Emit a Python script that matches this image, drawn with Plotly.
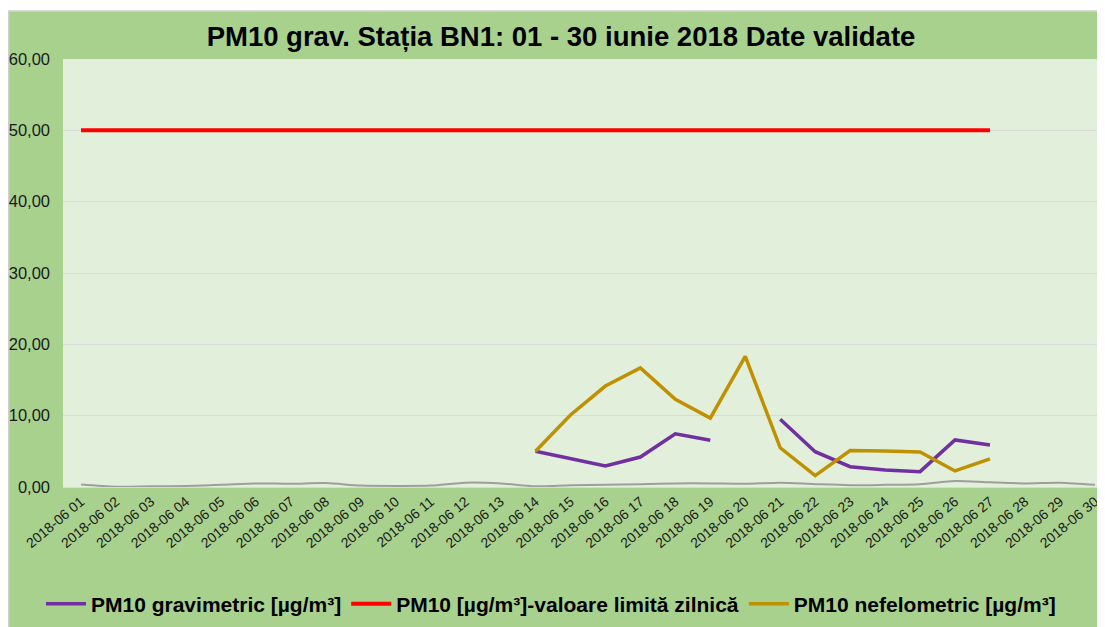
import plotly.graph_objects as go

dates = [f"2018-06 {d:02d}" for d in range(1, 31)]

gravimetric = [None]*13 + [5.0, 4.0, 2.95, 4.2, 7.45, 6.55, None, 9.5, 4.95, 2.85, 2.4, 2.15, 6.6, 5.9, None, None, None]
limit = [50.0]*27 + [None, None, None]
nefelometric = [None]*13 + [5.0, 10.1, 14.15, 16.7, 12.3, 9.65, 18.3, 5.5, 1.6, 5.1, 5.05, 4.9, 2.25, 3.95, None, None, None]
background = [0.35, 0.05, 0.1, 0.15, 0.3, 0.5, 0.45, 0.55, 0.2, 0.15, 0.2, 0.6, 0.5, 0.1, 0.25,
              0.3, 0.4, 0.5, 0.5, 0.45, 0.6, 0.4, 0.25, 0.3, 0.4, 0.85, 0.65, 0.5, 0.6, 0.3]

y_ticks = [0, 10, 20, 30, 40, 50, 60]

title_text = "PM10 grav. Stația BN1: 01 - 30 iunie 2018 Date validate"

fig = go.Figure()
fig.add_trace(go.Scatter(x=dates, y=background, mode="lines", showlegend=False,
                         line=dict(color="#9e9e9e", width=2, shape="spline", smoothing=0.8),
                         hoverinfo="skip"))
fig.add_trace(go.Scatter(x=dates, y=gravimetric, mode="lines", name="PM10 gravimetric [µg/m³]",
                         line=dict(color="#7030a0", width=3.5), connectgaps=False))
fig.add_trace(go.Scatter(x=dates, y=limit, mode="lines", name="PM10 [µg/m³]-valoare limită zilnică",
                         line=dict(color="#ff0000", width=4)))
fig.add_trace(go.Scatter(x=dates, y=nefelometric, mode="lines", name="PM10 nefelometric [µg/m³]",
                         line=dict(color="#bf9000", width=3.5)))

# the page body has an 8px margin, so the figure is sized/offset accordingly
OFF = 8
W, H = 1105 - OFF, 627 - OFF
L, R, T, B = 63 - OFF, 0, 59 - OFF, 627 - 487
pw, ph = W - L - R, H - T - B

def px(x):
    return (x - OFF - L) / pw

def py(y):
    return (H - B - (y - OFF)) / ph

# white strip above the chart frame and the frame border
fig.add_shape(type="rect", xref="paper", yref="paper", x0=px(0), x1=px(1120), y0=py(11), y1=py(0),
              fillcolor="white", line=dict(width=0), layer="below")
fig.add_shape(type="line", xref="paper", yref="paper", x0=px(8), x1=px(1120), y0=py(11), y1=py(11),
              line=dict(color="#d0d0d0", width=1.5), layer="below")
fig.add_shape(type="line", xref="paper", yref="paper", x0=px(8.7), x1=px(8.7), y0=py(640), y1=py(11),
              line=dict(color="#d0d0d0", width=1.5), layer="below")

fig.update_layout(
    width=W, height=H,
    margin=dict(l=L, r=R, t=T, b=B, autoexpand=False),
    paper_bgcolor="#a9d18e",
    plot_bgcolor="#e2efda",
    separators=",.",
    font=dict(family="Liberation Sans, Arial, sans-serif", color="#1a1a1a"),
    title=dict(text=f"<b>{title_text}</b>", x=(561 - OFF) / W, y=1 - (36 - OFF) / H,
               xref="container", yref="container",
               xanchor="center", yanchor="middle", font=dict(size=27.5, color="#000000")),
    legend=dict(orientation="h", xref="container", yref="container",
                x=(41 - OFF) / W, y=1 - (604 - OFF) / H,
                xanchor="left", yanchor="middle",
                bgcolor="rgba(0,0,0,0)",
                font=dict(size=21, color="#000000", family="Liberation Sans, Arial, sans-serif", weight="bold"),
                itemwidth=40, traceorder="normal"),
    showlegend=True,
)

fig.update_xaxes(type="category", range=[-0.515, 29.29], tickangle=-40, automargin=False,
                 tickfont=dict(size=14, color="#1a1a1a"), showgrid=False,
                 showline=True, linecolor="#d9d9d9", linewidth=1, ticks="", fixedrange=True)
fig.update_yaxes(range=[0, 60], tickvals=y_ticks, tickformat=".2f", automargin=False,
                 tickfont=dict(size=16.5, color="#1a1a1a"), showgrid=True, gridcolor="#d9d9d9",
                 gridwidth=1, zeroline=False, ticks="", ticklabelstandoff=12)

fig.write_html("out.html")
